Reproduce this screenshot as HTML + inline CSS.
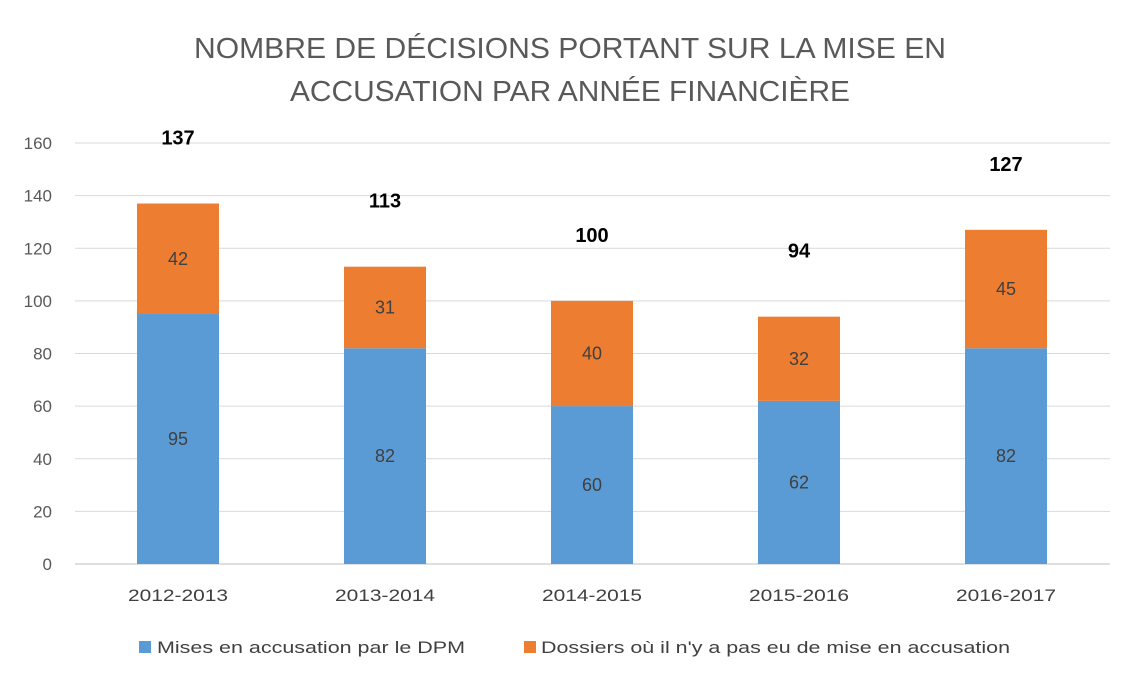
<!DOCTYPE html>
<html><head><meta charset="utf-8"><style>
body{margin:0;background:#fff;}
svg text{font-family:"Liberation Sans",sans-serif;}
</style></head><body>
<svg id="chart" width="1140" height="686" xmlns="http://www.w3.org/2000/svg">
<text x="570" y="58" text-anchor="middle" font-size="29" fill="#595959" textLength="752" lengthAdjust="spacingAndGlyphs">NOMBRE DE DÉCISIONS PORTANT SUR LA MISE EN</text>
<text x="570" y="101" text-anchor="middle" font-size="29" fill="#595959" textLength="560" lengthAdjust="spacingAndGlyphs">ACCUSATION PAR ANNÉE FINANCIÈRE</text>
<g id="grid"></g><g id="bars"></g>
<g>
<rect x="139" y="641" width="12" height="12" fill="#5B9BD5"/>
<text x="157" y="653" font-size="17" fill="#404040" textLength="308" lengthAdjust="spacingAndGlyphs">Mises en accusation par le DPM</text>
<rect x="524" y="641" width="12" height="12" fill="#ED7D31"/>
<text x="541" y="653" font-size="17" fill="#404040" textLength="469" lengthAdjust="spacingAndGlyphs">Dossiers où il n'y a pas eu de mise en accusation</text>
</g>
</svg>
<script>
const categories=["2012-2013","2013-2014","2014-2015","2015-2016","2016-2017"];
const accusation=[95,82,60,62,82];
const noAccusation=[42,31,40,32,45];
const yTicks=[0,20,40,60,80,100,120,140,160];
const NS="http://www.w3.org/2000/svg";
const y0=564,pxPer=(564-143)/160,left=75,right=1110,step=207,firstX=178,bw=82;
const y=v=>y0-v*pxPer, x=i=>firstX+i*step;
function mk(tag,attrs,parent,txt){const e=document.createElementNS(NS,tag);for(const k in attrs)e.setAttribute(k,attrs[k]);if(txt!==undefined)e.textContent=txt;parent.appendChild(e);return e;}
const grid=document.getElementById('grid'),bars=document.getElementById('bars');
yTicks.forEach(t=>{
 const l=mk('line',{x1:left,x2:right,y1:y(t),y2:y(t),stroke:t===0?'#bfbfbf':'#d9d9d9','stroke-width':1},grid);
 
 
 const tx=mk('text',{x:52,y:y(t)+6,'text-anchor':'end','font-size':17,fill:'#595959'},grid,t);
 
 
});
categories.forEach((c,i)=>{
 const a=accusation[i],n=noAccusation[i],cx=x(i);
 const r1=mk('rect',{x:cx-bw/2,y:y(a),width:bw,height:y0-y(a),fill:'#5B9BD5'},bars);
 
 
 const r2=mk('rect',{x:cx-bw/2,y:y(a+n),width:bw,height:y(a)-y(a+n),fill:'#ED7D31'},bars);
 
 
 const t1=mk('text',{x:cx,y:(y(a)+y0)/2+6,'text-anchor':'middle','font-size':18,fill:'#404040'},bars,a);
 
 
 const t2=mk('text',{x:cx,y:(y(a)+y(a+n))/2+6,'text-anchor':'middle','font-size':18,fill:'#404040'},bars,n);
 
 
 const tt=mk('text',{x:cx,y:y(a+n)-59,'text-anchor':'middle','font-size':20,'font-weight':'bold',fill:'#000'},bars,a+n);
 
 
 const xl=mk('text',{x:cx,y:601,'text-anchor':'middle','font-size':17,fill:'#404040',textLength:100,lengthAdjust:'spacingAndGlyphs'},bars,c);
 
 
});
</script>
</body></html>
